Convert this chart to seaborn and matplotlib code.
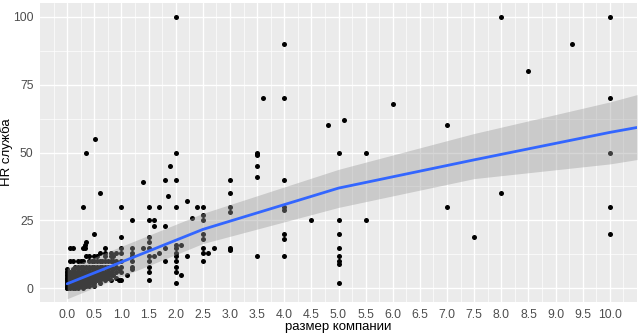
import numpy as np
import pandas as pd
import matplotlib
matplotlib.use("Agg")
import matplotlib.pyplot as plt
import seaborn as sns

# --- observations: company size vs. HR staff -------------------------------
# dense group of small companies
small_x = ([0.00] * 15 + [0.05] * 11 + [0.10] * 11 + [0.15] * 8 + [0.20] * 10
           + [0.25] * 8 + [0.30] * 12 + [0.33] * 2 + [0.35] * 10 + [0.40] * 10
           + [0.45] * 7 + [0.50] * 11 + [0.52] + [0.55] * 7 + [0.60] * 10
           + [0.65] * 5 + [0.70] * 9 + [0.75] * 6 + [0.80] * 7 + [0.85] * 4
           + [0.90] * 5 + [0.95] * 2)
small_y = ([0, 0, 1, 1, 2, 2, 3, 3, 4, 4, 5, 5, 6, 6, 7]
           + [0, 1, 1, 2, 3, 3, 4, 5, 6, 10, 15]
           + [0, 1, 2, 2, 3, 4, 5, 6, 7, 10, 15]
           + [0, 1, 2, 3, 4, 5, 6, 8]
           + [0, 1, 2, 3, 4, 5, 6, 7, 8, 10]
           + [1, 2, 3, 4, 5, 6, 8, 10]
           + [0, 1, 2, 3, 4, 5, 6, 7, 8, 10, 15, 30]
           + [15, 16]
           + [1, 2, 3, 4, 5, 6, 8, 12, 17, 50]
           + [1, 2, 3, 4, 5, 6, 7, 8, 10, 12]
           + [2, 3, 4, 5, 6, 8, 10]
           + [1, 2, 3, 4, 5, 6, 7, 8, 10, 12, 20]
           + [55]
           + [3, 4, 5, 6, 8, 10, 12]
           + [2, 3, 4, 5, 6, 7, 8, 10, 13, 35]
           + [4, 5, 6, 8, 10]
           + [3, 4, 5, 6, 8, 10, 12, 13, 15]
           + [4, 5, 6, 7, 8, 10]
           + [3, 5, 6, 8, 10, 12, 13]
           + [5, 7, 10, 12]
           + [4, 6, 8, 10, 13]
           + [3, 7])

# medium companies
mid_x = ([1.0] * 8 + [1.1] + [1.2] * 7 + [1.4] * 2 + [1.5] * 10 + [1.6] * 3
         + [1.7] * 2 + [1.8] * 4 + [1.85] + [1.9] + [2.0] * 12 + [2.1] * 2
         + [2.2] * 2 + [2.3] + [2.4])
mid_y = ([30, 19, 15, 13, 10, 8, 6, 3]
         + [5]
         + [25, 15, 13, 12, 10, 8, 7]
         + [39, 15]
         + [30, 25, 19, 17, 15, 12, 10, 8, 6, 3]
         + [25, 23, 12]
         + [30, 13]
         + [40, 23, 15, 10]
         + [34]
         + [45]
         + [100, 50, 40, 30, 16, 15, 13, 12, 10, 8, 6, 2]
         + [16, 5]
         + [32, 12]
         + [26]
         + [30])

# large companies
big_x = ([2.5] * 8 + [2.6] + [2.7] + [3.0] * 7 + [3.5] * 6 + [3.6] + [4.0] * 8
         + [4.5] + [4.8] + [5.0] * 8 + [5.1] + [5.5] * 2 + [6.0] + [7.0] * 2
         + [7.5] + [8.0] * 2 + [8.5] + [9.3] + [10.0] * 5)
big_y = ([30, 27, 25, 20, 18, 15, 13, 10]
         + [13]
         + [15]
         + [40, 35, 30, 28, 15, 14.5, 14]
         + [50, 49.5, 49, 45, 41, 12]
         + [70]
         + [90, 70, 40, 30, 29, 20, 18, 12]
         + [25]
         + [60]
         + [50, 25, 20, 15, 12, 10, 9, 2]
         + [62]
         + [50, 25]
         + [68]
         + [60, 30]
         + [19]
         + [100, 35]
         + [80]
         + [90]
         + [100, 70, 50, 30, 20])

# smoothed trend with its confidence band
fit_x = [0.0, 2.5, 5.0, 7.5, 10.0, 10.5]
fit_y = [1.7, 21.7, 36.9, 47.3, 57.4, 59.2]
fit_lo = [-3.8, 16.5, 29.8, 40.4, 45.8, 47.4]
fit_hi = [7.4, 27.6, 43.8, 57.0, 68.6, 71.3]

x_ticks = [0.0, 0.5, 1.0, 1.5, 2.0, 2.5, 3.0, 3.5, 4.0, 4.5, 5.0,
           5.5, 6.0, 6.5, 7.0, 7.5, 8.0, 8.5, 9.0, 9.5, 10.0]
x_tick_labels = ["0.0", "0.5", "1.0", "1.5", "2.0", "2.5", "3.0", "3.5",
                 "4.0", "4.5", "5.0", "5.5", "6.0", "6.5", "7.0", "7.5",
                 "8.0", "8.5", "9.0", "9.5", "10.0"]
y_ticks = [0, 25, 50, 75, 100]
y_tick_labels = ["0", "25", "50", "75", "100"]

df = pd.DataFrame({"size": small_x + mid_x + big_x,
                   "hr": small_y + mid_y + big_y})
fit = pd.DataFrame({"x": fit_x, "y": fit_y, "lo": fit_lo, "hi": fit_hi})

sns.set_theme(style="darkgrid", rc={
    "axes.facecolor": "#EBEBEB",
    "grid.color": "white",
    "axes.edgecolor": "#EBEBEB",
})
plt.rcParams["font.family"] = ["Liberation Sans", "DejaVu Sans"]

fig, ax = plt.subplots(figsize=(6.4, 3.34), dpi=100)
fig.subplots_adjust(left=40 / 640, right=637 / 640,
                    bottom=1 - 302 / 334, top=1 - 3 / 334)

sns.scatterplot(data=df, x="size", y="hr", ax=ax, color="black",
                s=13, linewidth=0, zorder=3)
ax.fill_between(fit["x"], fit["lo"], fit["hi"], color="#999999",
                alpha=0.4, linewidth=0, zorder=4)
sns.lineplot(data=fit, x="x", y="y", ax=ax, color="#3366FF",
             linewidth=2.0, zorder=5)

ax.set_xlim(-0.5, 10.5)
ax.set_ylim(-5, 105)
ax.set_xticks(x_ticks)
ax.set_xticklabels(x_tick_labels)
ax.set_yticks(y_ticks)
ax.set_yticklabels(y_tick_labels)
ax.set_xticks([v + 0.25 for v in x_ticks[:-1]] + [-0.25, 10.25], minor=True)
ax.set_yticks([-12.5 + 25 * k for k in range(1, 5)], minor=True)
ax.grid(which="major", color="white", linewidth=1.0)
ax.grid(which="minor", color="white", linewidth=0.5)
ax.set_axisbelow(True)
for s in ax.spines.values():
    s.set_visible(False)

ax.tick_params(axis="both", which="major", length=2.7, width=0.8,
               color="#333333", labelcolor="#4D4D4D", labelsize=8.8, pad=2)
ax.tick_params(axis="both", which="minor", length=0)

ax.set_xlabel("размер компании", fontsize=9.5, color="black")
ax.set_ylabel("HR служба", fontsize=9.5, color="black")
ax.xaxis.set_label_coords(0.5, -0.065)
ax.yaxis.set_label_coords(-0.045, 0.5)

fig.savefig("out.png", dpi=100)
